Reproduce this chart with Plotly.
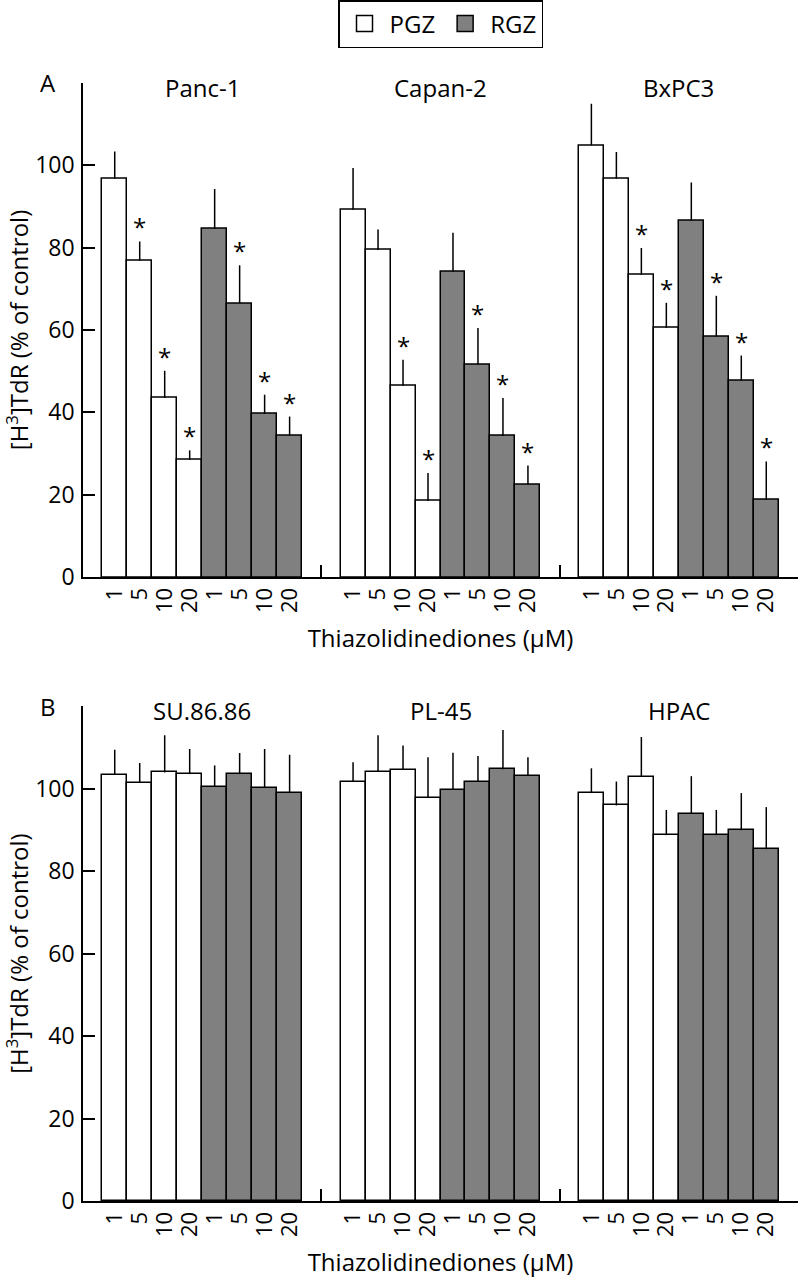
import plotly.graph_objects as go

# ---------------- data ----------------
conc_labels = ["1", "5", "10", "20"]
drugs = ["PGZ", "RGZ"]

cells_A = ["Panc-1", "Capan-2", "BxPC3"]
A_PGZ = [[96.7, 76.8, 43.5, 28.5], [89.2, 79.4, 46.5, 18.5], [104.8, 96.7, 73.4, 60.5]]
A_PGZ_err = [[6.6, 4.7, 6.6, 2.3], [10.1, 5.0, 6.3, 6.8], [10.1, 6.5, 6.5, 6.1]]
A_RGZ = [[84.5, 66.5, 39.7, 34.4], [74.2, 51.6, 34.3, 22.5], [86.5, 58.4, 47.7, 18.8]]
A_RGZ_err = [[9.7, 9.2, 4.6, 4.6], [9.4, 8.9, 9.2, 4.6], [9.3, 9.9, 6.1, 9.3]]
A_PGZ_sig = [[0, 1, 1, 1], [0, 0, 1, 1], [0, 0, 1, 1]]
A_RGZ_sig = [[0, 1, 1, 1], [0, 1, 1, 1], [0, 1, 1, 1]]

cells_B = ["SU.86.86", "PL-45", "HPAC"]
B_PGZ = [[103.3, 101.4, 103.9, 103.5], [101.7, 104.1, 104.6, 97.7], [98.9, 95.9, 102.8, 88.7]]
B_PGZ_err = [[6.1, 4.8, 9.0, 6.1], [4.7, 8.8, 5.8, 9.9], [6.0, 5.8, 9.7, 6.1]]
B_RGZ = [[100.4, 103.5, 100.2, 98.9], [99.7, 101.7, 104.7, 103.1], [93.9, 88.7, 89.9, 85.3]]
B_RGZ_err = [[5.2, 5.1, 9.4, 9.3], [9.0, 6.2, 9.5, 4.5], [9.1, 6.1, 9.0, 10.2]]
B_PGZ_sig = [[0, 0, 0, 0], [0, 0, 0, 0], [0, 0, 0, 0]]
B_RGZ_sig = [[0, 0, 0, 0], [0, 0, 0, 0], [0, 0, 0, 0]]

y_ticks = [0, 20, 40, 60, 80, 100]
y_title = "[H<sup>3</sup>]TdR (% of control)"
x_title = "Thiazolidinediones (\u03bcM)"

# ---------------- layout geometry ----------------
FONT = "Open Sans"
FS = 24          # titles / labels
FS_X = 22        # rotated concentration labels
FS_Y = 23        # y tick labels
FS_STAR = 24
SPAN = 9.54      # width of one cell-line group (incl. gap), in bar units
OFF = 0.77       # half gap before first bar
NG = 3
COLORS = {"PGZ": "white", "RGZ": "#808080"}


def bar_x(g, d, i):
    return g * SPAN + OFF + d * 4 + i + 0.5


def fnt(size):
    return dict(family=FONT, size=size, color="black")


fig = go.Figure()

panels = [
    ("A", cells_A, A_PGZ, A_PGZ_err, A_RGZ, A_RGZ_err, A_PGZ_sig, A_RGZ_sig, "x", "y"),
    ("B", cells_B, B_PGZ, B_PGZ_err, B_RGZ, B_RGZ_err, B_PGZ_sig, B_RGZ_sig, "x2", "y2"),
]

annotations = []
for (lab, cells, pv, pe, rv, re_, ps, rs, xa, ya) in panels:
    for d, (drug, vals, errs, sig) in enumerate([("PGZ", pv, pe, ps), ("RGZ", rv, re_, rs)]):
        xs, ys, es = [], [], []
        for g in range(NG):
            for i in range(4):
                xs.append(bar_x(g, d, i))
                ys.append(vals[g][i])
                es.append(errs[g][i])
                if sig[g][i]:
                    annotations.append(dict(
                        x=bar_x(g, d, i), y=vals[g][i] + errs[g][i], xref=xa, yref=ya,
                        text="*", showarrow=False, yanchor="bottom", yshift=-4,
                        font=fnt(FS_STAR)))
        fig.add_trace(go.Bar(
            x=xs, y=ys, width=1, xaxis=xa, yaxis=ya, name=drug, showlegend=False,
            marker=dict(color=COLORS[drug], line=dict(color="black", width=1.5)),
            error_y=dict(type="data", symmetric=False, array=es,
                         arrayminus=[0] * len(es), color="black", thickness=1.5, width=0),
        ))
    yref_dom = ("y" if ya == "y" else "y2") + " domain"
    for g, name in enumerate(cells):
        annotations.append(dict(
            x=g * SPAN + SPAN / 2, y=0.99, xref=xa, yref=yref_dom, text=name,
            showarrow=False, yanchor="middle", font=fnt(FS)))
    annotations.append(dict(
        x=-0.049, y=1.0, xref="paper", yref=yref_dom, text=lab, showarrow=False,
        yanchor="middle", xanchor="center", font=fnt(FS)))

# legend entries
for drug in drugs:
    fig.add_trace(go.Scatter(
        x=[None], y=[None], mode="markers", name=drug,
        marker=dict(symbol="square", size=18, color=COLORS[drug],
                    line=dict(color="black", width=1.5))))

tickvals = [bar_x(g, d, i) for g in range(NG) for d in range(2) for i in range(4)]
ticktext = [conc_labels[i] for g in range(NG) for d in range(2) for i in range(4)]
bounds = [SPAN * (g + 1) for g in range(NG)]

xcommon = dict(range=[0, SPAN * NG], showline=True, linecolor="black", linewidth=1.5,
               tickmode="array", tickvals=tickvals, ticktext=ticktext, tickangle=-90,
               ticks="", showgrid=False, zeroline=False, automargin=False,
               tickfont=fnt(FS_X),
               title=dict(text=x_title, font=fnt(FS), standoff=18))
ycommon = dict(range=[0, 120], showline=True, linecolor="black", linewidth=1.5,
               tickmode="array", tickvals=y_ticks, ticks="inside", ticklen=12,
               tickwidth=1.5, tickcolor="black", showgrid=False, zeroline=False,
               automargin=False, ticklabelstandoff=2,
               tickfont=fnt(FS_Y),
               title=dict(text=y_title, font=fnt(FS), standoff=6))
bcommon = dict(range=[0, SPAN * NG], tickmode="array", tickvals=bounds, ticks="inside",
               ticklen=12, tickwidth=1.5, tickcolor="black", showticklabels=False,
               showgrid=False, zeroline=False, showline=False)

H = 1280
domA = [1 - 577.3 / H, 1 - 82.7 / H]
domB = [1 - 1201.3 / H, 1 - 706 / H]

fig.update_layout(
    width=799, height=1280,
    margin=dict(l=83, r=1, t=0, b=0),
    paper_bgcolor="white", plot_bgcolor="white",
    bargap=0, barmode="overlay",
    font=fnt(FS),
    xaxis=dict(**xcommon, anchor="y", domain=[0, 1]),
    yaxis=dict(**ycommon, anchor="x", domain=domA),
    xaxis2=dict(**xcommon, anchor="y2", domain=[0, 1]),
    yaxis2=dict(**ycommon, anchor="x2", domain=domB),
    xaxis3=dict(**bcommon, overlaying="x", anchor="y"),
    xaxis4=dict(**bcommon, overlaying="x2", anchor="y2"),
    legend=dict(orientation="h", x=0.5, xanchor="center", y=1, yanchor="top",
                bordercolor="black", borderwidth=1.5, bgcolor="white",
                itemwidth=40, font=fnt(FS)),
    annotations=annotations,
    showlegend=True,
)

# dummy traces to activate boundary tick axes
fig.add_trace(go.Scatter(x=[None], y=[None], xaxis="x3", yaxis="y", showlegend=False))
fig.add_trace(go.Scatter(x=[None], y=[None], xaxis="x4", yaxis="y2", showlegend=False))

fig.write_html("out.html", config={"displayModeBar": False},
               post_script="document.body.style.margin='0';")
